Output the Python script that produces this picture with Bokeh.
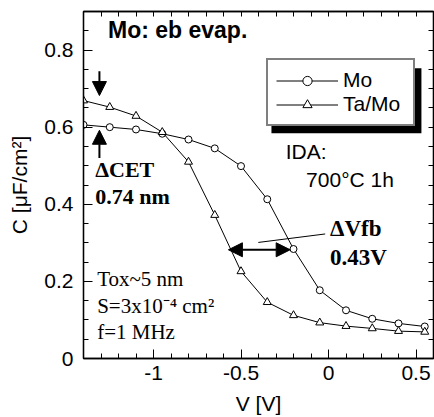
from bokeh.plotting import figure
from bokeh.models import (LinearAxis, SingleIntervalTicker, FixedTicker, NumeralTickFormatter, Legend,
                          LegendItem, Label, Arrow, NormalHead, BoxAnnotation)
from bokeh.embed import file_html
from bokeh.resources import INLINE

# ---- data ----
voltage = [-1.40, -1.25, -1.10, -0.95, -0.80, -0.65, -0.50, -0.35, -0.20, -0.05, 0.10, 0.25, 0.40, 0.55]
c_mo = [0.606, 0.600, 0.594, 0.583, 0.568, 0.545, 0.499, 0.413, 0.284, 0.177, 0.125, 0.103, 0.091, 0.083]
c_tamo = [0.669, 0.652, 0.629, 0.587, 0.510, 0.372, 0.226, 0.146, 0.112, 0.093, 0.084, 0.078, 0.071, 0.069]
series_names = ["Mo", "Ta/Mo"]

# tick marks mirrored on the top and right edges
top_ticks = [-1.4, -1.3, -1.2, -1.1, -1.0, -0.9, -0.8, -0.7, -0.6, -0.5, -0.4, -0.3, -0.2, -0.1,
             0.0, 0.1, 0.2, 0.3, 0.4, 0.5, 0.6]
right_ticks = [0.0, 0.05, 0.1, 0.15, 0.2, 0.25, 0.3, 0.35, 0.4, 0.45, 0.5, 0.55, 0.6, 0.65,
               0.7, 0.75, 0.8, 0.85, 0.9]

SANS = "Liberation Sans"
SERIF = "Liberation Serif"

p = figure(width=434, height=417, x_range=(-1.4, 0.6), y_range=(0, 0.9),
           output_backend="svg", toolbar_location=None,
           min_border_left=83, min_border_right=1, min_border_top=11, min_border_bottom=58)
p.grid.visible = False
p.outline_line_color = "black"
p.outline_line_width = 1.3
p.background_fill_color = "white"
p.border_fill_color = "white"

xt = SingleIntervalTicker(interval=0.5, num_minor_ticks=5)
yt = SingleIntervalTicker(interval=0.2, num_minor_ticks=4)
fmt = NumeralTickFormatter(format="0.[0]")

for ax, tk in ((p.xaxis[0], xt), (p.yaxis[0], yt)):
    ax.ticker = tk
    ax.formatter = fmt
    ax.axis_line_color = "black"
    ax.axis_line_width = 1.3
    ax.major_tick_in = 9
    ax.major_tick_out = 0
    ax.minor_tick_in = 5
    ax.minor_tick_out = 0
    ax.major_tick_line_color = "black"
    ax.minor_tick_line_color = "black"
    ax.major_label_text_font = SANS
    ax.major_label_text_font_size = "21px"
    ax.major_label_text_color = "black"
    ax.axis_label_text_font = SANS
    ax.axis_label_text_font_size = "21px"
    ax.axis_label_text_font_style = "normal"
    ax.axis_label_text_color = "black"

p.xaxis.axis_label = "V [V]"
p.yaxis.axis_label = "C [μF/cm²]"
p.xaxis.major_label_standoff = 7
p.xaxis.axis_label_standoff = 9
p.yaxis.major_label_standoff = 10
p.yaxis.axis_label_standoff = 10

for loc, ticks in (("above", top_ticks), ("right", right_ticks)):
    ax = LinearAxis(ticker=FixedTicker(ticks=[], minor_ticks=ticks),
                    major_tick_in=0, major_tick_out=0, minor_tick_in=5, minor_tick_out=0,
                    major_label_standoff=0,
                    axis_line_color="black", axis_line_width=1.3,
                    minor_tick_line_color="black")
    p.add_layout(ax, loc)

# ---- series ----
l_mo = p.line(voltage, c_mo, line_color="black", line_width=1)
s_mo = p.scatter(voltage, c_mo, marker="circle", size=7, fill_color="white", line_color="black", line_width=1)
l_ta = p.line(voltage, c_tamo, line_color="black", line_width=1)
s_ta = p.scatter(voltage, c_tamo, marker="triangle", size=8, fill_color="white", line_color="black", line_width=1)

# ---- legend with drop shadow ----
shadow = BoxAnnotation(left=-0.326, right=0.531, top=0.7525, bottom=0.584,
                       fill_color="black", fill_alpha=1, line_color=None)
p.add_layout(shadow)
legend = Legend(items=[LegendItem(label=series_names[0], renderers=[l_mo, s_mo]),
                       LegendItem(label=series_names[1], renderers=[l_ta, s_ta])],
                location=(183, 232), margin=0, padding=8, spacing=0,
                glyph_width=62, glyph_height=23, label_height=23, label_width=62,
                label_standoff=5,
                label_text_font=SANS, label_text_font_size="21px", label_text_color="black",
                border_line_color="black", border_line_width=2,
                background_fill_color="white", background_fill_alpha=1)
p.add_layout(legend)

# ---- annotations ----
def lab(x, y, text, font, size, style="normal"):
    p.add_layout(Label(x=x, y=y, text=text, text_font=font, text_font_size=size,
                       text_font_style=style, text_color="black", text_baseline="alphabetic"))

lab(-1.26, 0.853, "Mo: eb evap.", SANS, "23px", "bold")
lab(-1.333, 0.490, "ΔCET", SERIF, "22px", "bold")
lab(-1.333, 0.420, "0.74 nm", SERIF, "22px", "bold")
lab(-0.245, 0.538, "IDA:", SANS, "21px")
lab(-0.128, 0.465, "700°C 1h", SANS, "21px")
lab(0.009, 0.338, "ΔVfb", SERIF, "23px", "bold")
lab(0.009, 0.261, "0.43V", SERIF, "23px", "bold")
lab(-1.322, 0.206, "Tox~5 nm", SERIF, "21px")
lab(-1.322, 0.135, "S=3x10⁻⁴ cm²", SERIF, "21px")
lab(-1.322, 0.068, "f=1 MHz", SERIF, "21px")

def head():
    return NormalHead(size=14, fill_color="black", fill_alpha=1, line_color="black", line_width=1)

p.add_layout(Arrow(end=head(), x_start=-1.309, y_start=0.745, x_end=-1.309, y_end=0.682,
                   line_width=2, line_color="black"))
p.add_layout(Arrow(end=head(), x_start=-1.309, y_start=0.520, x_end=-1.309, y_end=0.592,
                   line_width=2, line_color="black"))
p.add_layout(Arrow(start=head(), end=head(), x_start=-0.572, y_start=0.282, x_end=-0.219, y_end=0.282,
                   line_width=2, line_color="black"))
p.segment(x0=[-0.401], y0=[0.301], x1=[-0.019], y1=[0.323], line_color="black", line_width=1)

open("out.html", "w").write(file_html(p, INLINE))
